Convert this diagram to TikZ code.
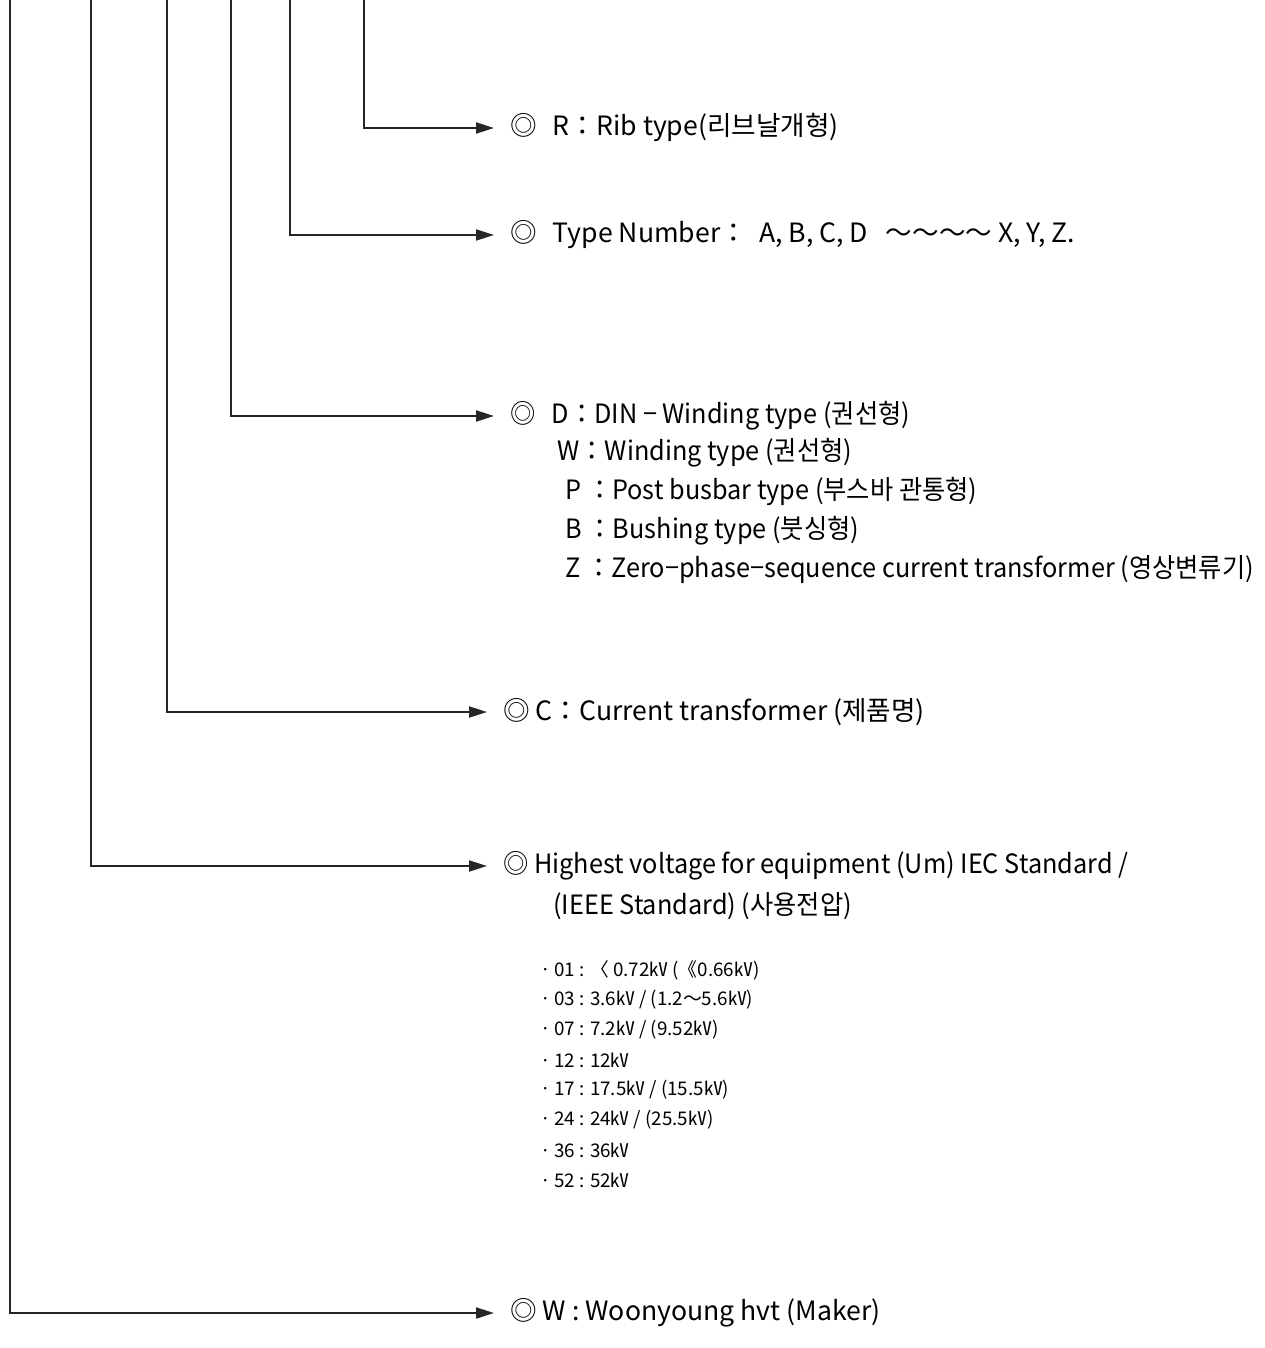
\documentclass[tikz,border=0pt]{standalone}
\usepackage{fontspec}
\setmainfont{Noto Sans CJK KR}
\newfontfamily\narrowfont[FakeStretch=0.95]{Noto Sans CJK KR}
\usetikzlibrary{arrows.meta}

\begin{document}
\begin{tikzpicture}[
    x=0.5pt, y=-0.5pt,
    lead/.style={line width=1pt, black!85, line join=miter},
    arrow/.style={lead, -{Triangle[length=9pt, width=5.5pt]}, shorten >=8pt},
    item/.style={anchor=west, inner sep=0pt, font=\fontsize{13.3}{16}\selectfont},
    narrowitem/.style={item, font=\narrowfont\fontsize{13.3}{16}\selectfont},
    volt/.style={anchor=west, inner sep=0pt, font=\fontsize{9.4}{11}\selectfont}
]
    \useasboundingbox (0,0) rectangle (1264,1348);

    % --- Lead-in lines from the code above ---
    \coordinate (topW)  at (10,0);
    \coordinate (topHv) at (91,0);
    \coordinate (topC)  at (167,0);
    \coordinate (topD)  at (231,0);
    \coordinate (topT)  at (290,0);
    \coordinate (topR)  at (364,0);

    % --- Rib type ---
    \node[item] (R) at (510,128) {◎\hspace{8pt}R：Rib type(리브날개형)};

    % --- Type number ---
    \node[item] (T) at (510,235) {◎\hspace{8pt}Type Number：\ \ A, B, C, D\ \ \ ～～～～ X, Y, Z.};

    % --- Construction type ---
    \node[narrowitem] (D1) at (510,416) {◎\hspace{8pt}D：DIN − Winding type (권선형)};
    \node[narrowitem] (D2) at (557,453) {W：Winding type (권선형)};
    \node[narrowitem] (D3) at (565,492) {P\ ：Post busbar type (부스바 관통형)};
    \node[narrowitem] (D4) at (565,531) {B\ ：Bushing type (붓싱형)};
    \node[narrowitem] (D5) at (565,570) {Z\ ：Zero−phase−sequence current transformer (영상변류기)};

    % --- Product name ---
    \node[item] (C) at (503,712) {◎ C：Current transformer (제품명)};

    % --- Voltage ---
    \node[narrowitem] (Hv1) at (503,866) {◎ Highest voltage for equipment (Um) IEC Standard /};
    \node[narrowitem] (Hv2) at (553,906) {(IEEE Standard) (사용전압)};

    \foreach \code/\val [count=\i] in {
        01/{〈 0.72㎸ (《0.66㎸)},
        03/{3.6㎸ / (1.2～5.6㎸)},
        07/{7.2㎸ / (9.52㎸)},
        12/{12㎸},
        17/{17.5㎸ / (15.5㎸)},
        24/{24㎸ / (25.5㎸)},
        36/{36㎸},
        52/{52㎸}} {
        \node[volt] (v\i) at (540,940+30*\i) {·\,\code{} : \val};
    }

    % --- Maker ---
    \node[item] (W) at (510,1313) {◎ W : Woonyoung hvt (Maker)};

    % Connectors
    \draw[arrow] (topR)  |- (R.west);
    \draw[arrow] (topT)  |- (T.west);
    \draw[arrow] (topD)  |- (D1.west);
    \draw[arrow] (topC)  |- (C.west);
    \draw[arrow] (topHv) |- (Hv1.west);
    \draw[arrow] (topW)  |- (W.west);
\end{tikzpicture}
\end{document}
